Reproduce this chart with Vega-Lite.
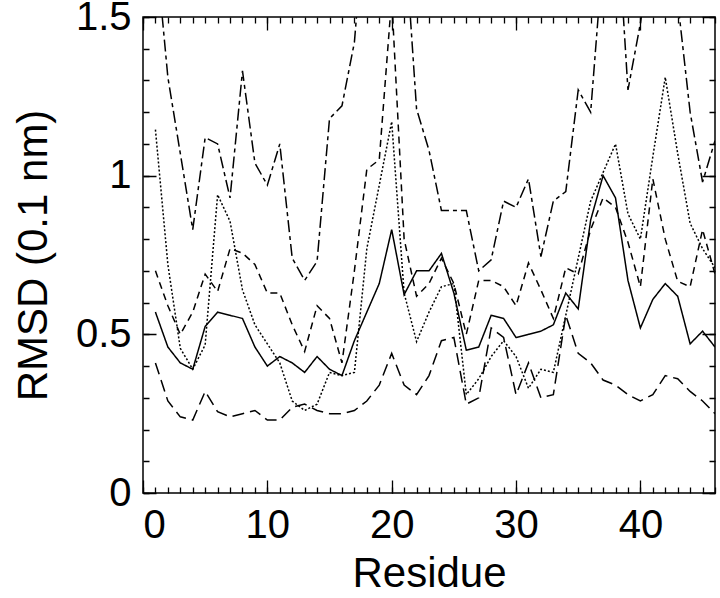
{
"$schema": "https://vega.github.io/schema/vega-lite/v6.json",
"width": 572, "height": 476,
"autosize": {"type": "none"},
"padding": {"left": 143, "top": 17, "right": 5, "bottom": 105},
"config": {
  "view": {"stroke": "black", "strokeWidth": 1.5},
  "font": "Liberation Sans",
  "axis": {"labelFont": "Liberation Sans", "titleFont": "Liberation Sans", "labelColor": "black", "titleColor": "black", "titleFontWeight": "normal", "labelFontSize": 40, "titleFontSize": 42}
},
"data": {"values": [
{"s":"A","x":1,"y":0.57},{"s":"A","x":2,"y":0.46},{"s":"A","x":3,"y":0.41},{"s":"A","x":4,"y":0.39},{"s":"A","x":5,"y":0.525},{"s":"A","x":6,"y":0.57},{"s":"A","x":7,"y":0.56},{"s":"A","x":8,"y":0.55},{"s":"A","x":9,"y":0.46},{"s":"A","x":10,"y":0.40},
{"s":"A","x":11,"y":0.43},{"s":"A","x":12,"y":0.41},{"s":"A","x":13,"y":0.38},{"s":"A","x":14,"y":0.43},{"s":"A","x":15,"y":0.39},{"s":"A","x":16,"y":0.37},{"s":"A","x":17,"y":0.48},{"s":"A","x":18,"y":0.57},{"s":"A","x":19,"y":0.66},{"s":"A","x":20,"y":0.83},
{"s":"A","x":21,"y":0.625},{"s":"A","x":22,"y":0.70},{"s":"A","x":23,"y":0.70},{"s":"A","x":24,"y":0.755},{"s":"A","x":25,"y":0.63},{"s":"A","x":26,"y":0.45},{"s":"A","x":27,"y":0.46},{"s":"A","x":28,"y":0.56},{"s":"A","x":29,"y":0.55},{"s":"A","x":30,"y":0.49},
{"s":"A","x":31,"y":0.50},{"s":"A","x":32,"y":0.51},{"s":"A","x":33,"y":0.53},{"s":"A","x":34,"y":0.63},{"s":"A","x":35,"y":0.58},{"s":"A","x":36,"y":0.86},{"s":"A","x":37,"y":1.0},{"s":"A","x":38,"y":0.93},{"s":"A","x":39,"y":0.67},{"s":"A","x":40,"y":0.52},
{"s":"A","x":41,"y":0.61},{"s":"A","x":42,"y":0.66},{"s":"A","x":43,"y":0.62},{"s":"A","x":44,"y":0.47},{"s":"A","x":45,"y":0.51},{"s":"A","x":46,"y":0.46},
{"s":"B","x":1,"y":1.145},{"s":"B","x":2,"y":0.72},{"s":"B","x":3,"y":0.456},{"s":"B","x":4,"y":0.39},{"s":"B","x":5,"y":0.467},{"s":"B","x":6,"y":0.94},{"s":"B","x":7,"y":0.856},{"s":"B","x":8,"y":0.64},{"s":"B","x":9,"y":0.53},{"s":"B","x":10,"y":0.47},
{"s":"B","x":11,"y":0.41},{"s":"B","x":12,"y":0.29},{"s":"B","x":13,"y":0.26},{"s":"B","x":14,"y":0.28},{"s":"B","x":15,"y":0.38},{"s":"B","x":16,"y":0.37},{"s":"B","x":17,"y":0.38},{"s":"B","x":18,"y":0.77},{"s":"B","x":19,"y":0.97},{"s":"B","x":20,"y":1.17},
{"s":"B","x":21,"y":0.63},{"s":"B","x":22,"y":0.477},{"s":"B","x":23,"y":0.57},{"s":"B","x":24,"y":0.65},{"s":"B","x":25,"y":0.66},{"s":"B","x":26,"y":0.31},{"s":"B","x":27,"y":0.36},{"s":"B","x":28,"y":0.43},{"s":"B","x":29,"y":0.48},{"s":"B","x":30,"y":0.43},
{"s":"B","x":31,"y":0.33},{"s":"B","x":32,"y":0.39},{"s":"B","x":33,"y":0.38},{"s":"B","x":34,"y":0.56},{"s":"B","x":35,"y":0.74},{"s":"B","x":36,"y":0.92},{"s":"B","x":37,"y":1.01},{"s":"B","x":38,"y":1.10},{"s":"B","x":39,"y":0.88},{"s":"B","x":40,"y":0.80},
{"s":"B","x":41,"y":1.06},{"s":"B","x":42,"y":1.31},{"s":"B","x":43,"y":1.07},{"s":"B","x":44,"y":0.85},{"s":"B","x":45,"y":0.77},{"s":"B","x":46,"y":0.71},
{"s":"C","x":1,"y":0.70},{"s":"C","x":2,"y":0.59},{"s":"C","x":3,"y":0.50},{"s":"C","x":4,"y":0.57},{"s":"C","x":5,"y":0.69},{"s":"C","x":6,"y":0.635},{"s":"C","x":7,"y":0.77},{"s":"C","x":8,"y":0.756},{"s":"C","x":9,"y":0.72},{"s":"C","x":10,"y":0.63},
{"s":"C","x":11,"y":0.63},{"s":"C","x":12,"y":0.53},{"s":"C","x":13,"y":0.446},{"s":"C","x":14,"y":0.59},{"s":"C","x":15,"y":0.55},{"s":"C","x":16,"y":0.41},{"s":"C","x":17,"y":0.70},{"s":"C","x":18,"y":1.02},{"s":"C","x":19,"y":1.05},{"s":"C","x":20,"y":1.56},
{"s":"C","x":21,"y":0.80},{"s":"C","x":22,"y":0.62},{"s":"C","x":23,"y":0.66},{"s":"C","x":24,"y":0.74},{"s":"C","x":25,"y":0.66},{"s":"C","x":26,"y":0.50},{"s":"C","x":27,"y":0.67},{"s":"C","x":28,"y":0.67},{"s":"C","x":29,"y":0.65},{"s":"C","x":30,"y":0.59},
{"s":"C","x":31,"y":0.725},{"s":"C","x":32,"y":0.64},{"s":"C","x":33,"y":0.55},{"s":"C","x":34,"y":0.71},{"s":"C","x":35,"y":0.69},{"s":"C","x":36,"y":0.83},{"s":"C","x":37,"y":0.93},{"s":"C","x":38,"y":0.90},{"s":"C","x":39,"y":0.79},{"s":"C","x":40,"y":0.65},
{"s":"C","x":41,"y":0.99},{"s":"C","x":42,"y":0.80},{"s":"C","x":43,"y":0.667},{"s":"C","x":44,"y":0.65},{"s":"C","x":45,"y":0.83},{"s":"C","x":46,"y":0.69},
{"s":"D","x":1,"y":0.41},{"s":"D","x":2,"y":0.29},{"s":"D","x":3,"y":0.24},{"s":"D","x":4,"y":0.23},{"s":"D","x":5,"y":0.32},{"s":"D","x":6,"y":0.256},{"s":"D","x":7,"y":0.24},{"s":"D","x":8,"y":0.25},{"s":"D","x":9,"y":0.26},{"s":"D","x":10,"y":0.23},
{"s":"D","x":11,"y":0.23},{"s":"D","x":12,"y":0.27},{"s":"D","x":13,"y":0.28},{"s":"D","x":14,"y":0.26},{"s":"D","x":15,"y":0.25},{"s":"D","x":16,"y":0.25},{"s":"D","x":17,"y":0.26},{"s":"D","x":18,"y":0.29},{"s":"D","x":19,"y":0.34},{"s":"D","x":20,"y":0.44},
{"s":"D","x":21,"y":0.34},{"s":"D","x":22,"y":0.31},{"s":"D","x":23,"y":0.37},{"s":"D","x":24,"y":0.48},{"s":"D","x":25,"y":0.49},{"s":"D","x":26,"y":0.28},{"s":"D","x":27,"y":0.30},{"s":"D","x":28,"y":0.52},{"s":"D","x":29,"y":0.49},{"s":"D","x":30,"y":0.31},
{"s":"D","x":31,"y":0.41},{"s":"D","x":32,"y":0.30},{"s":"D","x":33,"y":0.31},{"s":"D","x":34,"y":0.56},{"s":"D","x":35,"y":0.44},{"s":"D","x":36,"y":0.41},{"s":"D","x":37,"y":0.356},{"s":"D","x":38,"y":0.34},{"s":"D","x":39,"y":0.31},{"s":"D","x":40,"y":0.29},
{"s":"D","x":41,"y":0.31},{"s":"D","x":42,"y":0.37},{"s":"D","x":43,"y":0.36},{"s":"D","x":44,"y":0.32},{"s":"D","x":45,"y":0.29},{"s":"D","x":46,"y":0.25},
{"s":"E","x":1,"y":1.73},{"s":"E","x":2,"y":1.31},{"s":"E","x":3,"y":1.07},{"s":"E","x":4,"y":0.83},{"s":"E","x":5,"y":1.12},{"s":"E","x":6,"y":1.10},{"s":"E","x":7,"y":0.93},{"s":"E","x":8,"y":1.33},{"s":"E","x":9,"y":1.04},{"s":"E","x":10,"y":0.97},
{"s":"E","x":11,"y":1.10},{"s":"E","x":12,"y":0.74},{"s":"E","x":13,"y":0.67},{"s":"E","x":14,"y":0.73},{"s":"E","x":15,"y":1.18},{"s":"E","x":16,"y":1.22},{"s":"E","x":17,"y":1.42},{"s":"E","x":18,"y":1.9},{"s":"E","x":19,"y":2.0},{"s":"E","x":20,"y":2.0},
{"s":"E","x":21,"y":1.79},{"s":"E","x":22,"y":1.21},{"s":"E","x":23,"y":1.08},{"s":"E","x":24,"y":0.89},{"s":"E","x":25,"y":0.89},{"s":"E","x":26,"y":0.89},{"s":"E","x":27,"y":0.70},{"s":"E","x":28,"y":0.735},{"s":"E","x":29,"y":0.92},{"s":"E","x":30,"y":0.90},
{"s":"E","x":31,"y":0.99},{"s":"E","x":32,"y":0.745},{"s":"E","x":33,"y":0.92},{"s":"E","x":34,"y":0.95},{"s":"E","x":35,"y":1.27},{"s":"E","x":36,"y":1.20},{"s":"E","x":37,"y":1.7},{"s":"E","x":38,"y":1.9},{"s":"E","x":39,"y":1.27},{"s":"E","x":40,"y":1.48},
{"s":"E","x":41,"y":1.75},{"s":"E","x":42,"y":1.8},{"s":"E","x":43,"y":1.55},{"s":"E","x":44,"y":1.2},{"s":"E","x":45,"y":0.98},{"s":"E","x":46,"y":1.11}
]},
"layer": [
  {
    "mark": {"type": "line", "clip": true, "color": "black", "strokeWidth": 1.5},
    "encoding": {
      "x": {"field": "x", "type": "quantitative", "scale": {"domain": [0, 46], "nice": false, "zero": false},
        "axis": {"orient": "bottom", "values": [0,10,20,30,40], "domain": false, "ticks": false, "grid": true, "gridColor": "black", "gridOpacity": 1, "gridWidth": 1.3, "gridDash": [13,450], "labelPadding": 12, "title": "Residue", "titlePadding": 8}},
      "y": {"field": "y", "type": "quantitative", "scale": {"domain": [0, 1.5], "nice": false},
        "axis": {"orient": "left", "values": [0,0.5,1,1.5], "domain": false, "ticks": false, "grid": true, "gridColor": "black", "gridOpacity": 1, "gridWidth": 1.3, "gridDash": [13,546], "labelExpr": "toString(datum.value)", "labelPadding": 12, "title": "RMSD (0.1 nm)", "titlePadding": 20}},
      "strokeDash": {"field": "s", "type": "nominal", "legend": null,
        "scale": {"domain": ["A","B","C","D","E"], "range": [[1,0],[2,2],[7,5],[12,6],[12,4,4,4]]}}
    }
  },
  {
    "mark": {"type": "point", "opacity": 0},
    "encoding": {
      "x": {"field": "x", "type": "quantitative", "scale": {"domain": [0, 46], "nice": false, "zero": false},
        "axis": {"orient": "top", "values": [0,1,2,3,4,5,6,7,8,9,10,11,12,13,14,15,16,17,18,19,20,21,22,23,24,25,26,27,28,29,30,31,32,33,34,35,36,37,38,39,40,41,42,43,44,45,46], "domain": false, "ticks": false, "labels": false, "title": null, "grid": true, "gridColor": "black", "gridOpacity": 1, "gridWidth": 1.3, "gridDash": [6,464]}},
      "y": {"field": "y", "type": "quantitative", "scale": {"domain": [0, 1.5], "nice": false},
        "axis": {"orient": "right", "values": [0,0.1,0.2,0.3,0.4,0.5,0.6,0.7,0.8,0.9,1.0,1.1,1.2,1.3,1.4,1.5], "domain": false, "ticks": false, "labels": false, "title": null, "grid": true, "gridColor": "black", "gridOpacity": 1, "gridWidth": 1.3, "gridDash": [6,560]}}
    }
  }
],
"resolve": {"axis": {"x": "independent", "y": "independent"}}
}
